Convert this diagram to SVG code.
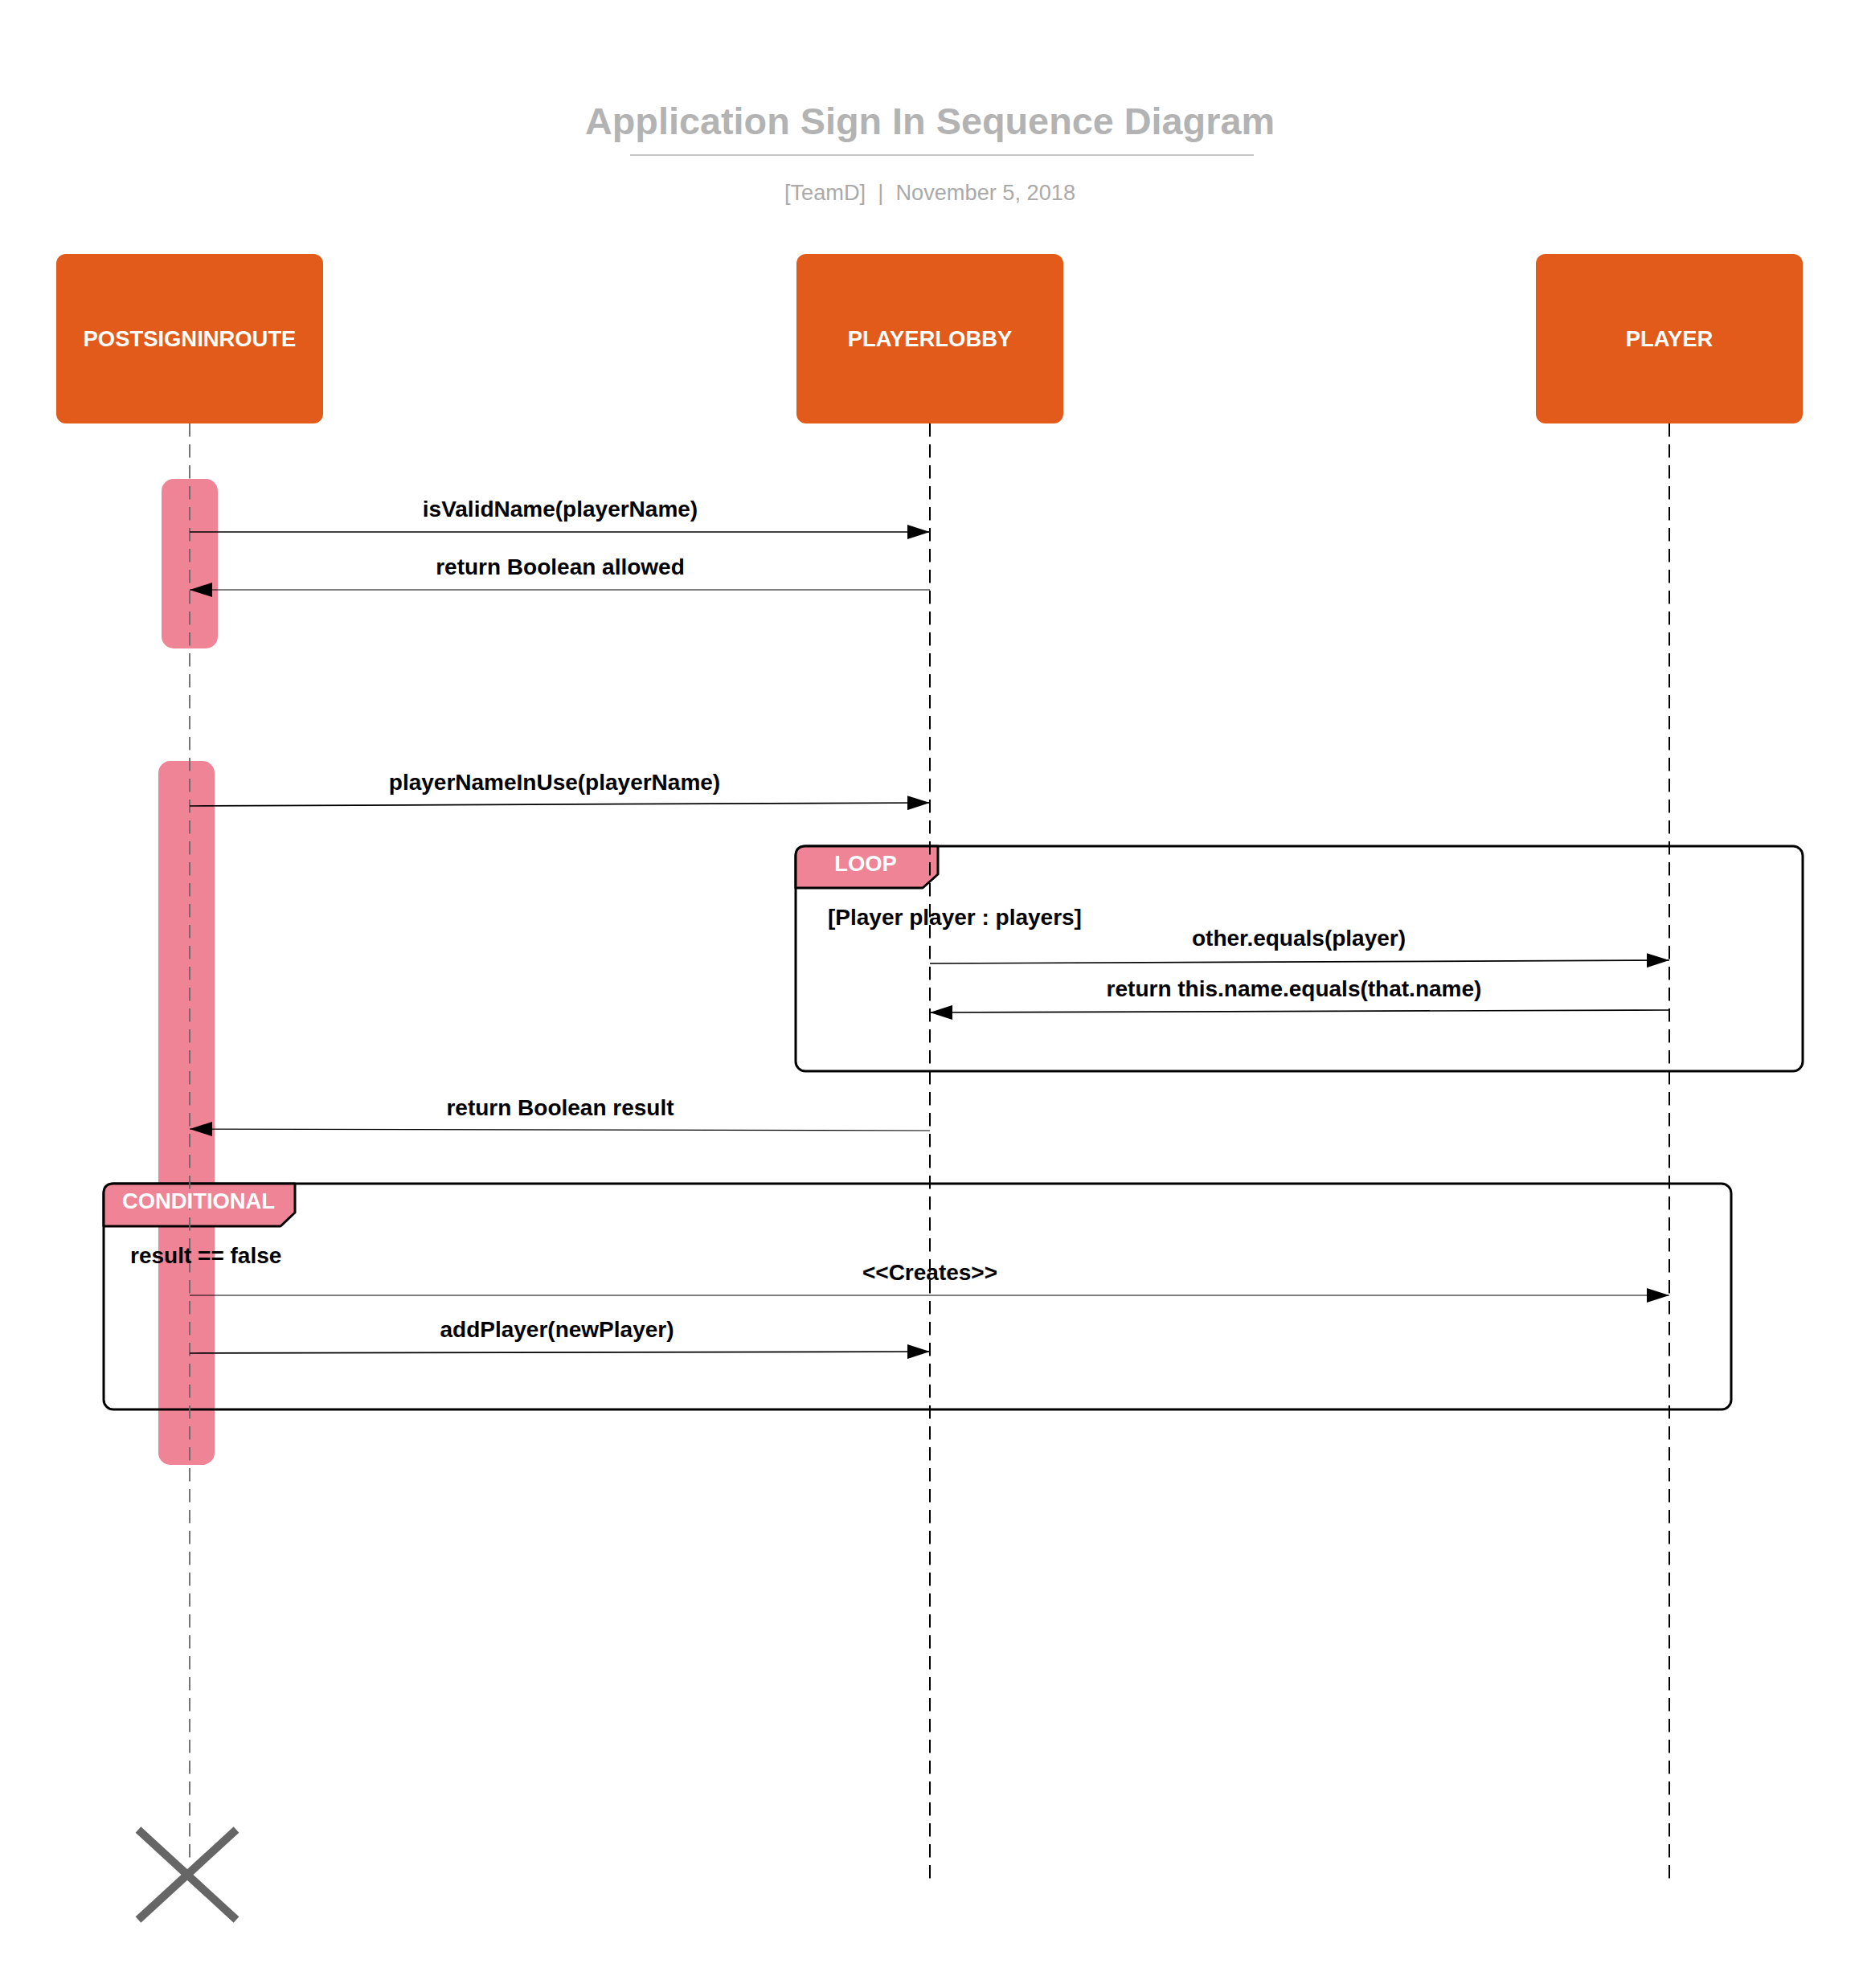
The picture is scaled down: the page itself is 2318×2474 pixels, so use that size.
<svg xmlns="http://www.w3.org/2000/svg" width="2318" height="2474" viewBox="0 0 2318 2474">
<style>
text{font-family:"Liberation Sans",Arial,sans-serif}
.lbl{font-size:28px;font-weight:bold;fill:#000}
.mid{text-anchor:middle}
.head{fill:#e25b1a}
.headtxt{font-size:27.4px;font-weight:bold;fill:#fff;text-anchor:middle}
.act{fill:#ef8497}
.frame{fill:none;stroke:#000;stroke-width:3}
.tag{fill:#ef8497;stroke:#000;stroke-width:3;stroke-linejoin:round}
.tagtxt{font-size:27.4px;font-weight:bold;fill:#fff;text-anchor:middle}
.life{fill:none;stroke:#000;stroke-width:2;stroke-dasharray:16.5 9.5}
.life1{fill:none;stroke:#666;stroke-width:1.8;stroke-dasharray:16.5 9.5}
.call{fill:none;stroke:#000;stroke-width:1.7;marker-end:url(#ah)}
.ret{fill:none;stroke:#000;stroke-width:1.2;marker-end:url(#ah)}
</style>
<defs>
<marker id="ah" viewBox="0 0 28 18" refX="28" refY="9" markerWidth="28" markerHeight="18" markerUnits="userSpaceOnUse" orient="auto">
<path d="M0,0 L28,9 L0,18 Z" fill="#000"/>
</marker>
</defs>
<rect width="2318" height="2474" fill="#fff"/>

<g id="title">
<text x="1157" y="167" text-anchor="middle" font-size="46.8" font-weight="bold" fill="#b3b3b3">Application Sign In Sequence Diagram</text>
<line x1="784" y1="193" x2="1560" y2="193" stroke="#b3b3b3" stroke-width="1.5"/>
<text x="1157" y="249" text-anchor="middle" font-size="27.2" fill="#aaaaaa" xml:space="preserve">[TeamD]  |  November 5, 2018</text>
</g>

<g id="activations">
<rect id="act1" class="act" x="201" y="596" width="70" height="211" rx="15"/>
<rect id="act2" class="act" x="197" y="947" width="70" height="876" rx="15"/>
</g>

<g id="frame-loop">
<rect class="frame" x="990" y="1053" width="1253" height="280" rx="12"/>
<path class="tag" d="M990,1105 V1065 Q990,1053 1002,1053 H1167 V1088 L1148,1105 Z"/>
</g>

<g id="frame-conditional">
<rect class="frame" x="129" y="1473" width="2025" height="281" rx="12"/>
<path class="tag" d="M129,1526 V1485 Q129,1473 141,1473 H367 V1509 L349,1526 Z"/>
</g>

<g id="node-postsigninroute">
<rect class="head" x="70" y="316" width="332" height="211" rx="12"/>
<text class="headtxt" x="236" y="431">POSTSIGNINROUTE</text>
<line class="life1" x1="236" y1="527" x2="236" y2="2316"/>
</g>

<g id="node-playerlobby">
<rect class="head" x="991" y="316" width="332" height="211" rx="12"/>
<text class="headtxt" x="1157" y="431">PLAYERLOBBY</text>
<line class="life" x1="1157" y1="527" x2="1157" y2="2345"/>
</g>

<g id="node-player">
<rect class="head" x="1911" y="316" width="332" height="211" rx="12"/>
<text class="headtxt" x="2077" y="431">PLAYER</text>
<line class="life" x1="2077" y1="527" x2="2077" y2="2345"/>
</g>

<g id="frame-labels">
<text class="tagtxt" x="1077" y="1084">LOOP</text>
<text class="lbl" x="1030" y="1151">[Player player : players]</text>
<text class="tagtxt" x="247" y="1504">CONDITIONAL</text>
<text class="lbl" x="162" y="1572">result == false</text>
</g>

<g id="destroy">
<line x1="172" y1="2277" x2="294" y2="2389" stroke="#666" stroke-width="10"/>
<line x1="294" y1="2277" x2="172" y2="2389" stroke="#666" stroke-width="10"/>
</g>

<g id="connectors">
<line class="call" x1="236" y1="662" x2="1157" y2="662"/>
<text class="lbl mid" x="697" y="643">isValidName(playerName)</text>

<line class="ret" x1="1157" y1="734" x2="236" y2="734"/>
<text class="lbl mid" x="697" y="715">return Boolean allowed</text>

<line class="call" x1="236" y1="1003" x2="1157" y2="999"/>
<text class="lbl mid" x="690" y="983">playerNameInUse(playerName)</text>

<line class="call" x1="1157" y1="1199" x2="2077" y2="1195"/>
<text class="lbl mid" x="1616" y="1177">other.equals(player)</text>

<line class="call" x1="2077" y1="1257" x2="1157" y2="1260"/>
<text class="lbl mid" x="1610" y="1240">return this.name.equals(that.name)</text>

<line class="ret" x1="1157" y1="1407" x2="236" y2="1405"/>
<text class="lbl mid" x="697" y="1388">return Boolean result</text>

<line class="ret" x1="236" y1="1612" x2="2077" y2="1612"/>
<text class="lbl mid" x="1157" y="1593">&lt;&lt;Creates&gt;&gt;</text>

<line class="call" x1="236" y1="1684" x2="1157" y2="1682"/>
<text class="lbl mid" x="693" y="1664">addPlayer(newPlayer)</text>
</g>
</svg>
